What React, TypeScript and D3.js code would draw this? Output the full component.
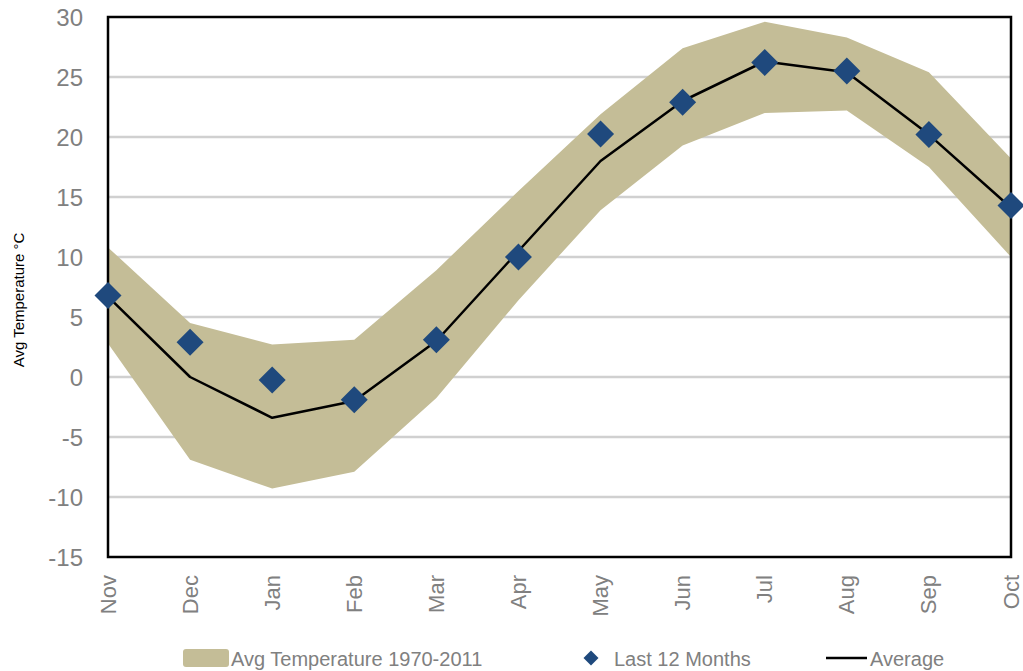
import * as d3 from "d3";

const months = ["Nov", "Dec", "Jan", "Feb", "Mar", "Apr", "May", "Jun", "Jul", "Aug", "Sep", "Oct"];
const bandHigh = [10.8, 4.5, 2.7, 3.1, 8.9, 15.5, 21.9, 27.4, 29.6, 28.3, 25.4, 18.2];
const bandLow = [2.8, -6.9, -9.3, -7.9, -1.75, 6.4, 13.9, 19.3, 22.0, 22.2, 17.5, 10.0];
const average = [6.7, 0.0, -3.4, -2.0, 3.0, 10.5, 18.0, 23.0, 26.3, 25.4, 20.2, 14.1];
const last12 = [6.8, 2.9, -0.25, -1.9, 3.1, 10.0, 20.25, 22.9, 26.2, 25.5, 20.2, 14.3];
const yTicks = [30, 25, 20, 15, 10, 5, 0, -5, -10, -15];

/** svg dimensions */
const width = 1023;
const height = 671;
const left = 108;
const right = 1011;
const top = 17;
const bottom = 557;

const bandColor = "#C4BD97";
const markerColor = "#1F497D";
const tickColor = "#808080";

const diamond = (cx: number, cy: number, r: number) =>
  `M${cx},${cy - r}L${cx + r},${cy}L${cx},${cy + r}L${cx - r},${cy}Z`;

const App = () => {
  const x = d3.scalePoint<string>().domain(months).range([left, right]);
  const y = d3.scaleLinear().domain([-15, 30]).range([bottom, top]);

  const area = d3
    .area<number>()
    .x((_, i) => x(months[i]) ?? 0)
    .y0((_, i) => y(bandLow[i]))
    .y1((d) => y(d));

  const line = d3
    .line<number>()
    .x((_, i) => x(months[i]) ?? 0)
    .y((d) => y(d));

  return (
    <svg
      width={width}
      height={height}
      style={{ position: "absolute", left: 0, top: 0, fontFamily: "Arial, 'Liberation Sans', sans-serif" }}
    >
      {/* gridlines */}
      {yTicks
        .filter((t) => t !== 30 && t !== -15)
        .map((t) => (
          <line key={t} x1={left} x2={right} y1={y(t)} y2={y(t)} stroke="#D0D0D0" strokeWidth={2.5} />
        ))}
      {/* band */}
      <path d={area(bandHigh) ?? ""} fill={bandColor} />
      {/* average line */}
      <path d={line(average) ?? ""} fill="none" stroke="#000" strokeWidth={2.5} strokeLinejoin="round" />
      {/* plot border */}
      <rect x={left} y={top} width={right - left} height={bottom - top} fill="none" stroke="#000" strokeWidth={2.5} />
      {/* markers */}
      {last12.map((v, i) => (
        <path key={i} d={diamond(x(months[i]) ?? 0, y(v), 13.5)} fill={markerColor} />
      ))}
      {/* y tick labels */}
      {yTicks.map((t) => (
        <text key={t} x={83} y={y(t)} textAnchor="end" dominantBaseline="central" fontSize={24} fill={tickColor}>
          {t}
        </text>
      ))}
      {/* x tick labels */}
      {months.map((m) => (
        <text
          key={m}
          textAnchor="end"
          dominantBaseline="central"
          fontSize={22}
          fill={tickColor}
          transform={`translate(${x(m)}, 575) rotate(-90)`}
        >
          {m}
        </text>
      ))}
      {/* y-axis label */}
      <text
        textAnchor="middle"
        dominantBaseline="central"
        fontSize={15}
        fill="#000"
        transform={`translate(18, 300) rotate(-90)`}
      >
        Avg Temperature °C
      </text>
      {/* legend */}
      <g fontSize={20} fill={tickColor}>
        <rect x={183} y={649} width={46} height={18} rx={3} fill={bandColor} />
        <text x={231} y={666}>Avg Temperature 1970-2011</text>
        <path d={diamond(591, 658, 7.5)} fill={markerColor} />
        <text x={614} y={666}>Last 12 Months</text>
        <line x1={826} x2={867} y1={658} y2={658} stroke="#000" strokeWidth={2.5} />
        <text x={870} y={666}>Average</text>
      </g>
    </svg>
  );
};

export default App;
